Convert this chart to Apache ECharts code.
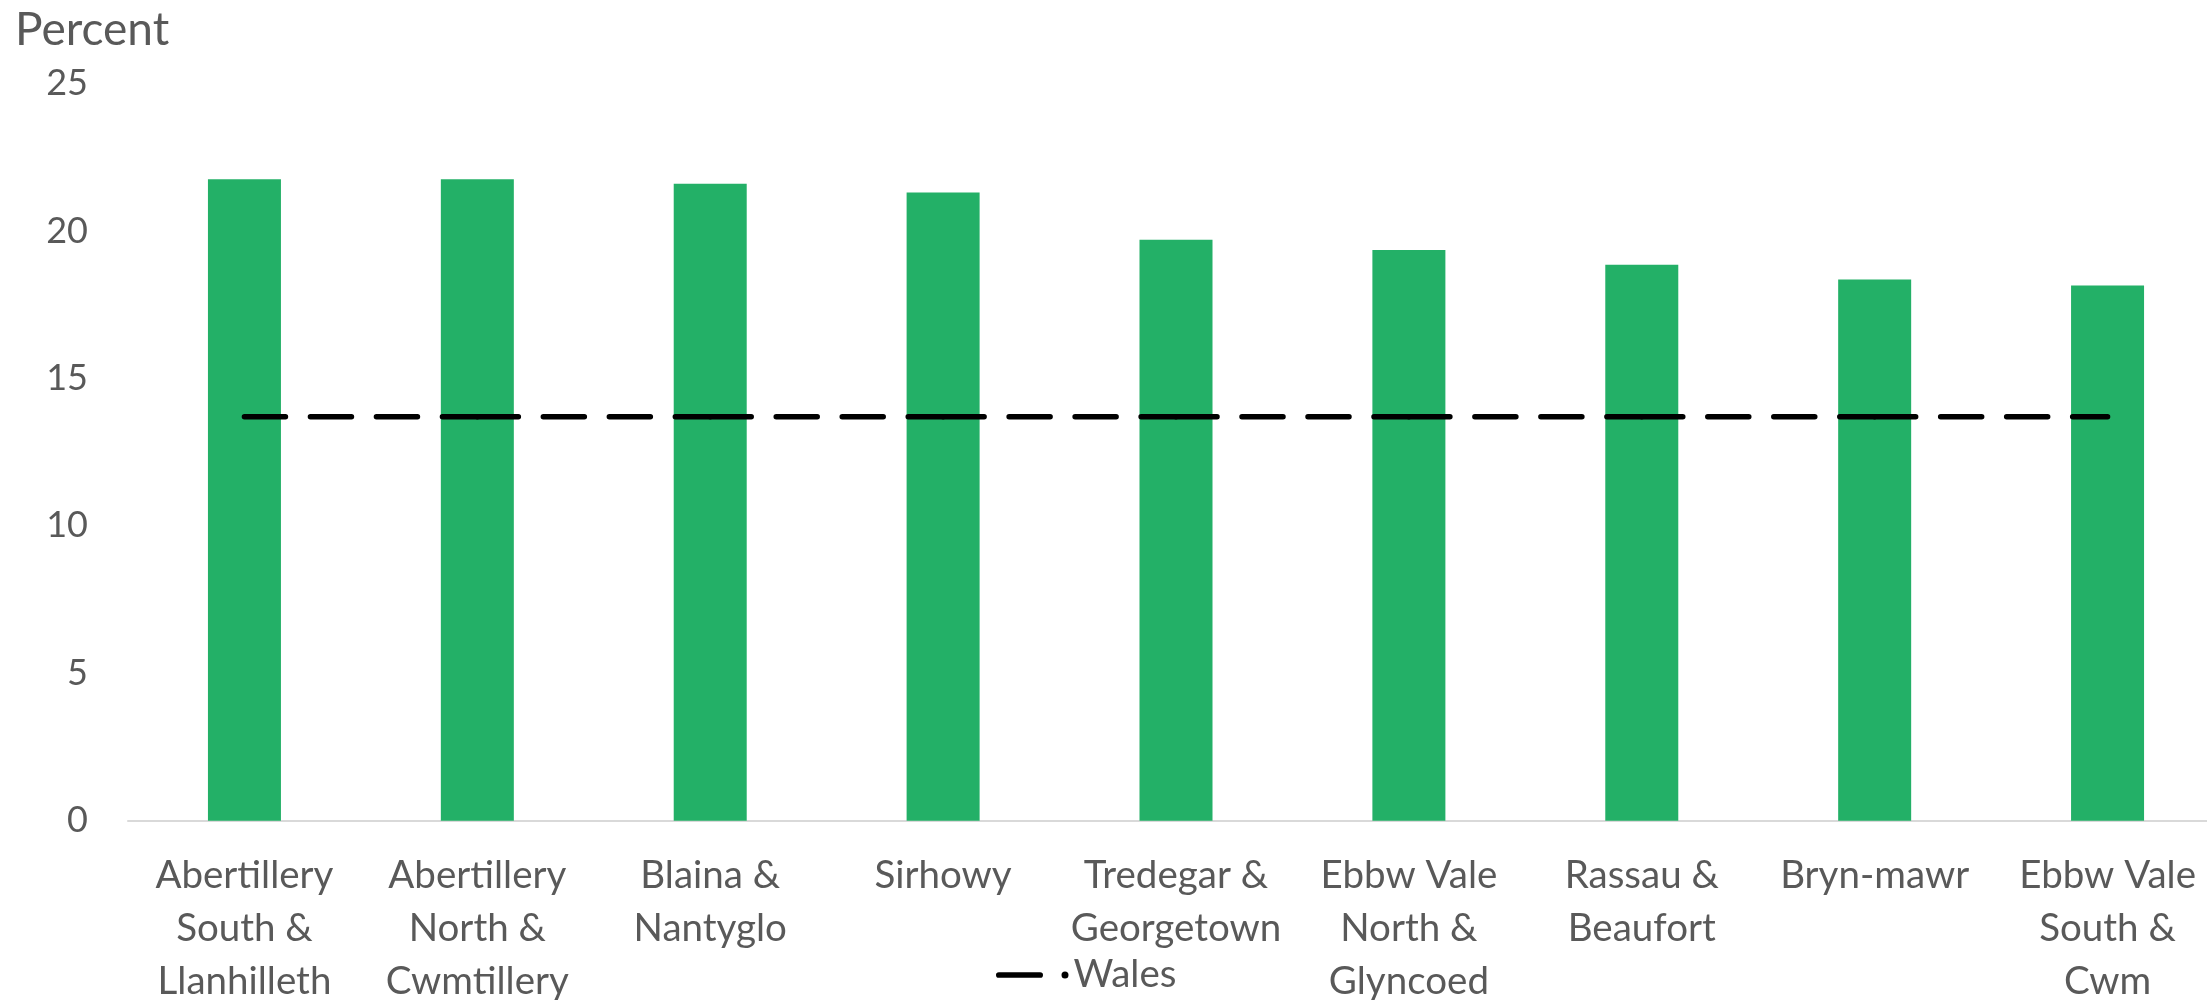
<!DOCTYPE html>
<html>
<head>
<meta charset="utf-8">
<script src="https://cdn.jsdelivr.net/npm/echarts@6/dist/echarts.min.js"></script>
<style>
  html, body { margin: 0; padding: 0; background: #ffffff; }
  #chart { width: 2207px; height: 1000px; }
</style>
</head>
<body>
<div id="chart"></div>
<script>
// ---- Data ----
const categories = [
  'Abertillery\nSouth &\nLlanhilleth',
  'Abertillery\nNorth &\nCwmtillery',
  'Blaina &\nNantyglo',
  'Sirhowy',
  'Tredegar &\nGeorgetown',
  'Ebbw Vale\nNorth &\nGlyncoed',
  'Rassau &\nBeaufort',
  'Bryn-mawr',
  'Ebbw Vale\nSouth &\nCwm'
];
const wardValues = [21.75, 21.75, 21.6, 21.3, 19.7, 19.35, 18.85, 18.35, 18.15];
const walesValues = [13.7, 13.7, 13.7, 13.7, 13.7, 13.7, 13.7, 13.7, 13.7];
const yTicks = [0, 5, 10, 15, 20, 25];
const yAxisTitle = 'Percent';
const walesName = 'Wales';

// ---- Chart ----
const FONT = 'Lato, "Open Sans", sans-serif';
const TEXT = '#595959';
const chart = echarts.init(document.getElementById('chart'), null, { renderer: 'canvas' });

// Wales reference line drawn per segment so the dash pattern restarts at each category (as in the original)
const walesSeries = [];
for (let i = 0; i < categories.length - 1; i++) {
  walesSeries.push({
    name: walesName,
    type: 'line',
    data: walesValues.map((v, j) => (j === i || j === i + 1) ? v : null),
    connectNulls: false,
    symbol: 'none',
    color: '#000000',
    lineStyle: { color: '#000000', width: 5.5, type: [41, 25], cap: 'round', dashOffset: 0 },
    z: 5,
    silent: true
  });
}

const legendIcon = 'path://M2.85,0.65 L44.15,0.65 A2.85,2.85 0 0 1 44.15,6.35 L2.85,6.35 A2.85,2.85 0 0 1 2.85,0.65 Z M69,0 A3.5,3.5 0 1 1 69,7 A3.5,3.5 0 1 1 69,0 Z';

chart.setOption({
  animation: false,
  backgroundColor: '#ffffff',
  title: {
    text: yAxisTitle,
    left: 15,
    top: 7,
    padding: 0,
    textStyle: { fontFamily: FONT, fontSize: 46, fontWeight: 'normal', color: TEXT }
  },
  legend: {
    data: [{ name: walesName, icon: legendIcon }],
    left: 991,
    top: 946,
    itemWidth: 72.5,
    itemHeight: 7,
    itemStyle: { color: '#000000' },
    textStyle: { fontFamily: FONT, fontSize: 38.5, color: TEXT, lineHeight: 48 },
    selectedMode: false
  },
  grid: { left: 128, width: 2096, top: 83.5, bottom: 179.3, containLabel: false, outerBoundsMode: 'none' },
  xAxis: {
    type: 'category',
    data: categories,
    boundaryGap: true,
    axisLine: { show: true, lineStyle: { color: '#D9D9D9', width: 2 } },
    axisTick: { show: false },
    axisLabel: {
      interval: 0,
      margin: 28,
      fontFamily: FONT,
      fontSize: 38.5,
      lineHeight: 53,
      color: TEXT,
      align: 'center'
    },
    splitLine: { show: false }
  },
  yAxis: {
    type: 'value',
    min: yTicks[0],
    max: yTicks[yTicks.length - 1],
    interval: yTicks[1] - yTicks[0],
    axisLine: { show: false },
    axisTick: { show: false },
    splitLine: { show: false },
    axisLabel: { margin: 40, fontFamily: FONT, fontSize: 36, color: TEXT }
  },
  series: [
    {
      name: 'Ward',
      type: 'bar',
      data: wardValues,
      barWidth: 73,
      itemStyle: { color: '#23B067' },
      z: 2,
      silent: true
    }
  ].concat(walesSeries)
});
</script>
</body>
</html>
